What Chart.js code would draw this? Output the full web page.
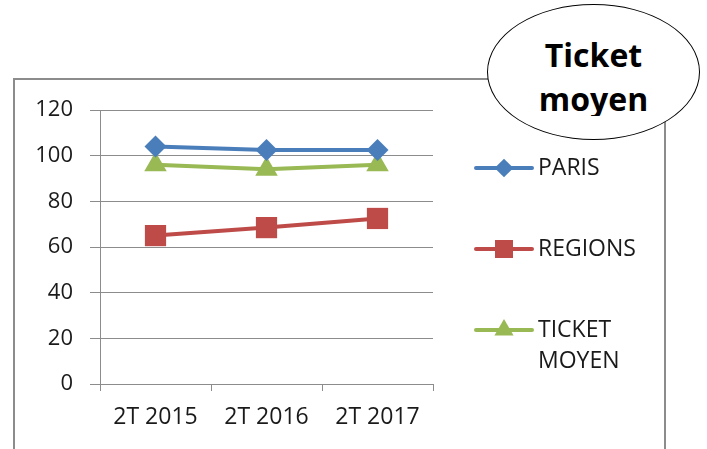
<!DOCTYPE html>
<html lang="fr">
<head>
  <meta charset="UTF-8">
  <title>Ticket moyen</title>
  <script src="https://cdn.jsdelivr.net/npm/chart.js@4.4.1/dist/chart.umd.min.js"></script>
  <style>
    html, body { margin:0; padding:0; background:#fff; }
    #wrap { position:relative; width:707px; height:449px; overflow:hidden; }
    #cadre { position:absolute; left:13px; top:78px; width:653px; height:400px;
             border:2px solid #8c8c8c; box-sizing:border-box; }
    #graf { position:absolute; left:0; top:0; }
    #bulle { position:absolute; left:487px; top:4px; width:213px; height:136px;
             box-sizing:border-box; border:1.5px solid #000; border-radius:50%;
             background:#fff; font-family:"Open Sans", sans-serif; font-weight:bold;
             font-size:32px; line-height:44px; color:#000; text-align:center; }
    #bulle span { position:absolute; left:0; right:0; top:28px; height:83px; overflow:hidden; }
  </style>
</head>
<body>
<div id="wrap">
  <div id="cadre"></div>
  <canvas id="graf" width="707" height="449"></canvas>
  <div id="bulle"><span>Ticket<br>moyen</span></div>
</div>

<script>
  /* ---------- Données ---------- */
  const trimestres = ['2T 2015', '2T 2016', '2T 2017'];
  const paris      = [104, 102.5, 102.5];
  const regions    = [65, 68.5, 72.5];
  const ticketMoy  = [96, 94, 96];
  const series     = ['PARIS', 'REGIONS', 'TICKET MOYEN'];
  const yTicks     = [0, 20, 40, 60, 80, 100, 120];

  const FONT = '"Open Sans", sans-serif';
  const GRIS = '#8c8c8c';
  const TEXTE = '#1a1a1a';

  /* ---------- Légende dessinée à droite ---------- */
  const legendeDroite = {
    id: 'legendeDroite',
    afterDraw(chart) {
      const ctx = chart.ctx;
      const x0 = 476, x1 = 532, xm = 504, xt = 538;
      ctx.save();
      ctx.font = `23px ${FONT}`;
      ctx.textBaseline = 'middle';
      ctx.textAlign = 'left';
      chart.data.datasets.forEach((ds, i) => {
        const y = 168 + i * 81;
        ctx.strokeStyle = ds.borderColor;
        ctx.lineWidth = ds.borderWidth;
        ctx.lineCap = 'round';
        ctx.beginPath(); ctx.moveTo(x0, y); ctx.lineTo(x1, y); ctx.stroke();
        ctx.fillStyle = ds.pointBackgroundColor;
        Chart.helpers.drawPoint(ctx, {
          pointStyle: ds.pointStyle, radius: ds.pointRadius * 0.85,
          rotation: 0, borderWidth: 0
        }, xm, y);
        // retour à la ligne si trop long
        const mots = ds.label.split(' ');
        const lignes = [];
        let cur = '';
        mots.forEach(m => {
          const test = cur ? cur + ' ' + m : m;
          if (ctx.measureText(test).width > 125 && cur) { lignes.push(cur); cur = m; }
          else cur = test;
        });
        lignes.push(cur);
        ctx.fillStyle = TEXTE;
        lignes.forEach((l, k) => ctx.fillText(l, xt, y + k * 31));
      });
      ctx.restore();
    }
  };

  const styleSerie = (label, data, color, pointStyle, radius) => ({
    label, data,
    borderColor: color,
    backgroundColor: color,
    pointBackgroundColor: color,
    pointBorderColor: color,
    borderWidth: 4,
    pointStyle,
    pointRadius: radius,
    pointHoverRadius: radius,
    pointBorderWidth: 0,
    tension: 0
  });

  new Chart(document.getElementById('graf'), {
    type: 'line',
    data: {
      labels: trimestres,
      datasets: [
        styleSerie(series[0], paris,     '#4a7ebb', 'rectRot',  11),
        styleSerie(series[1], regions,   '#be4b48', 'rect',     15),
        styleSerie(series[2], ticketMoy, '#98b954', 'triangle', 13)
      ]
    },
    options: {
      responsive: false,
      animation: false,
      layout: { padding: { left: 0, right: 274, top: 110, bottom: 0 } },
      plugins: { legend: { display: false }, tooltip: { enabled: false } },
      scales: {
        x: {
          offset: true,
          grid: { offset: true, drawOnChartArea: false, color: GRIS, tickLength: 7 },
          border: { color: GRIS, width: 1 },
          ticks: { color: TEXTE, font: { family: FONT, size: 23 }, padding: 13 },
          afterFit: s => { s.height = 65; }
        },
        y: {
          min: 0, max: 120,
          afterBuildTicks: s => { s.ticks = yTicks.map(v => ({ value: v })); },
          grid: { color: GRIS, tickLength: 10 },
          border: { color: GRIS, width: 1 },
          ticks: { color: TEXTE, font: { family: FONT, size: 22 }, padding: 17 },
          afterFit: s => { s.width = 100; }
        }
      }
    },
    plugins: [legendeDroite]
  });
</script>
</body>
</html>
